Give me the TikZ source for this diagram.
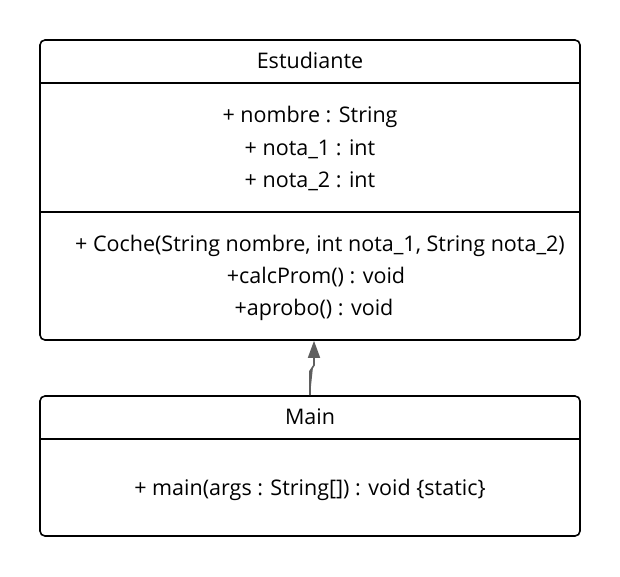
\documentclass[tikz,border=0pt]{standalone}
\usepackage{fontspec}
\setmainfont{Open Sans}
\usetikzlibrary{arrows.meta,calc}
\definecolor{conn}{HTML}{5F5F5F}
\begin{document}
\begin{tikzpicture}[x=1pt,y=-1pt,
  box/.style={draw=black,line width=1.6pt,rounded corners=5pt,minimum width=540pt,inner sep=0pt},
  txt/.style={font=\fontsize{21.5}{25}\selectfont,inner sep=0pt,anchor=base},
  divider/.style={draw=black,line width=1.6pt}]
\useasboundingbox (0,0) rectangle (620,576);
\node[box,minimum height=300pt] (est) at (310,190) {};
\node[box,minimum height=140pt] (main) at (310,466) {};
\draw[divider] (40,83) -- (580,83);
\draw[divider] (40,212) -- (580,212);
\draw[divider] (40,439) -- (580,439);
\node[txt] (t1) at (310,68.5) {Estudiante};
\node[txt] (a1) at (310,122.5) {+ nombre : String};
\node[txt] (a2) at (310,155.5) {+ nota\_1 : int};
\node[txt] (a3) at (310,187.5) {+ nota\_2 : int};
\node[txt] (m1) at (320,251.5) {+ Coche(String nombre, int nota\_1, String nota\_2)};
\node[txt] (m2) at (316,283.5) {+calcProm() : void};
\node[txt] (m3) at (314,315.5) {+aprobo() : void};
\node[txt] (t2) at (310,424.5) {Main};
\node[txt] (mm) at (310,495.5) {+ main(args : String[]) : void \{static\}};
\draw[conn,line width=1.6pt,-{Triangle[width=12pt,length=17pt]},fill=conn]
  (main.north) -- ++(0,-24) -- ++(4,-6) -- ($(est.south)+(4,0)$);
\end{tikzpicture}
\end{document}
